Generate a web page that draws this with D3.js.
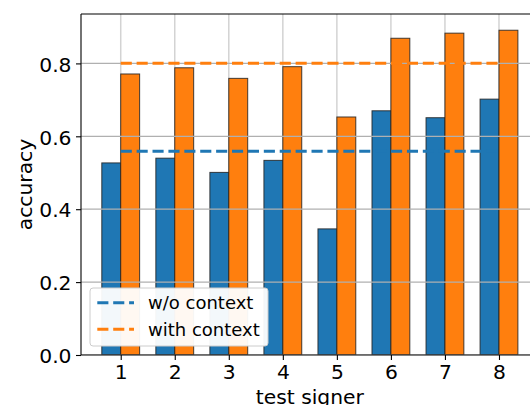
<!DOCTYPE html>
<html>
<head>
<meta charset="utf-8">
<script src="https://cdn.jsdelivr.net/npm/d3@7"></script>
<style>
  body { margin: 0; background: #fff; }
  svg { font-family: "DejaVu Sans", sans-serif; }
</style>
</head>
<body>
<div id="chart"></div>
<script>
var signers = [1, 2, 3, 4, 5, 6, 7, 8];
var withoutContext = [0.527, 0.540, 0.501, 0.534, 0.346, 0.670, 0.651, 0.702];
var withContext = [0.771, 0.788, 0.759, 0.791, 0.653, 0.869, 0.883, 0.891];
var yTicks = [0.0, 0.2, 0.4, 0.6, 0.8];
var seriesNames = ["w/o context", "with context"];
var colors = ["#1f77b4", "#ff7f0e"];

var w = 530, h = 405;
var pLeft = 81, pTop = 14, pRight = 538.7, pBottom = 355;
var barW = 0.35;
var fs = 20.3;

var svg = d3.select("#chart").append("svg")
    .attr("width", w)
    .attr("height", h);

var x = d3.scaleLinear().domain([0.265, 8.735]).range([pLeft, pRight]);
var ymax = d3.max(withContext.concat(withoutContext)) * 1.05;
var y = d3.scaleLinear().domain([0, ymax]).range([pBottom, pTop]);

svg.append("defs").append("clipPath").attr("id", "plot")
    .append("rect").attr("x", pLeft).attr("y", pTop)
    .attr("width", pRight - pLeft).attr("height", pBottom - pTop);

var plot = svg.append("g").attr("clip-path", "url(#plot)");

// vertical grid
plot.selectAll(".vgrid").data(signers).enter()
    .append("line")
    .attr("x1", function (d) { return x(d); })
    .attr("x2", function (d) { return x(d); })
    .attr("y1", pTop).attr("y2", pBottom)
    .attr("stroke", "#d3d3d3").attr("stroke-width", 1.5);

// bars
[withoutContext, withContext].forEach(function (vals, s) {
    var off = s === 0 ? -barW / 2 : barW / 2;
    plot.selectAll(".bar" + s).data(vals).enter()
        .append("rect")
        .attr("x", function (d, i) { return x(signers[i] + off - barW / 2); })
        .attr("width", x(barW) - x(0))
        .attr("y", function (d) { return y(d); })
        .attr("height", function (d) { return y(0) - y(d); })
        .attr("fill", colors[s])
        .attr("stroke", "#222")
        .attr("stroke-opacity", 0.85)
        .attr("stroke-width", 1);
});

// horizontal grid
plot.selectAll(".hgrid").data(yTicks).enter()
    .append("line")
    .attr("x1", pLeft).attr("x2", pRight)
    .attr("y1", function (d) { return y(d); })
    .attr("y2", function (d) { return y(d); })
    .attr("stroke", "#b0b0b0").attr("stroke-width", 1.2);

// mean lines
[withoutContext, withContext].forEach(function (vals, s) {
    var m = d3.mean(vals);
    plot.append("line")
        .attr("x1", x(signers[0])).attr("x2", x(signers[signers.length - 1]))
        .attr("y1", y(m)).attr("y2", y(m))
        .attr("stroke", colors[s])
        .attr("stroke-width", 3)
        .attr("stroke-dasharray", "11.1,4.8");
});

// spines
svg.append("line").attr("x1", pLeft).attr("x2", pLeft).attr("y1", pTop).attr("y2", pBottom)
    .attr("stroke", "#000").attr("stroke-width", 1.1);
svg.append("line").attr("x1", pLeft).attr("x2", w).attr("y1", pBottom).attr("y2", pBottom)
    .attr("stroke", "#000").attr("stroke-width", 1.1);
svg.append("line").attr("x1", pLeft).attr("x2", w).attr("y1", pTop).attr("y2", pTop)
    .attr("stroke", "#000").attr("stroke-width", 1.1);

// axes
var xAxis = d3.axisBottom(x).tickValues(signers).tickSize(5).tickPadding(5)
    .tickFormat(d3.format("d"));
var gx = svg.append("g").attr("transform", "translate(0," + pBottom + ")").call(xAxis);
gx.select(".domain").remove();

var yAxis = d3.axisLeft(y).tickValues(yTicks).tickSize(5).tickPadding(4.5)
    .tickFormat(d3.format(".1f"));
var gy = svg.append("g").attr("transform", "translate(" + pLeft + ",0)").call(yAxis);
gy.select(".domain").remove();
gy.selectAll(".tick text").attr("dy", "0.38em");

svg.selectAll(".tick text")
    .attr("font-family", "DejaVu Sans")
    .attr("font-size", fs)
    .attr("fill", "#000");
svg.selectAll(".tick line").attr("stroke", "#000").attr("stroke-width", 1.1);

svg.append("text")
    .attr("x", x(4.5)).attr("y", 404)
    .attr("text-anchor", "middle")
    .attr("font-size", fs)
    .text("test signer");

svg.append("text")
    .attr("transform", "translate(32," + ((pTop + pBottom) / 2) + ") rotate(-90)")
    .attr("text-anchor", "middle")
    .attr("font-size", fs)
    .text("accuracy");

// legend
var lg = svg.append("g").attr("transform", "translate(90,288)");
lg.append("rect")
    .attr("width", 178).attr("height", 58)
    .attr("rx", 3)
    .attr("fill", "#fff").attr("fill-opacity", 0.95)
    .attr("stroke", "#cccccc").attr("stroke-width", 1);
seriesNames.forEach(function (name, i) {
    var cy = 14.7 + i * 26.6;
    lg.append("line")
        .attr("x1", 7.3).attr("x2", 44)
        .attr("y1", cy).attr("y2", cy)
        .attr("stroke", colors[i])
        .attr("stroke-width", 3)
        .attr("stroke-dasharray", "11.1,4.8");
    lg.append("text")
        .attr("x", 58).attr("y", cy + 6.6)
        .attr("font-size", 18)
        .text(name);
});
</script>
</body>
</html>
